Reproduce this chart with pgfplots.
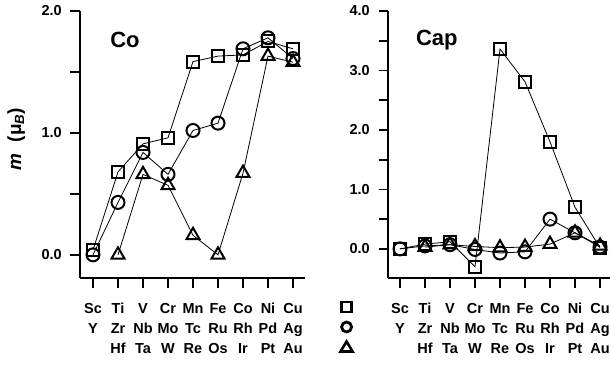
\documentclass[border=0pt]{standalone}
\usepackage{fontspec}
\setmainfont{Liberation Sans}
\usepackage{pgfplots}
\pgfplotsset{compat=1.18}

\pgfplotstableread{
x sq ci
0 0.04 0.00
1 0.68 0.43
2 0.91 0.84
3 0.96 0.66
4 1.585 1.02
5 1.63 1.08
6 1.64 1.69
7 1.75 1.78
8 1.69 1.61
}\coA
\pgfplotstableread{
x tr
1 0.00
2 0.66
3 0.57
4 0.16
5 0.00
6 0.67
7 1.63
8 1.58
}\coB
\pgfplotstableread{
x sq ci
0 0.00 0.00
1 0.08 0.05
2 0.12 0.07
3 -0.30 -0.01
4 3.36 -0.07
5 2.81 -0.05
6 1.80 0.50
7 0.70 0.27
8 0.02 0.03
}\capA
\pgfplotstableread{
x tr
1 0.03
2 0.07
3 0.04
4 0.02
5 0.03
6 0.08
7 0.27
8 0.05
}\capB

\pgfplotsset{
  panel/.style={
    scale only axis,
    axis x line=bottom, axis y line=left,
    axis line style={-, line width=1.7pt},
    tick align=outside,
    major tick length=9.5pt, minor tick length=9.5pt,
    every tick/.style={line width=1.7pt, black},
    xtick={0,...,8},
    xticklabels={\strut Sc\\\strut Y, \strut Ti\\\strut Zr\\\strut Hf, \strut V\\\strut Nb\\\strut Ta,
      \strut Cr\\\strut Mo\\\strut W, \strut Mn\\\strut Tc\\\strut Re, \strut Fe\\\strut Ru\\\strut Os,
      \strut Co\\\strut Rh\\\strut Ir, \strut Ni\\\strut Pd\\\strut Pt, \strut Cu\\\strut Ag\\\strut Au},
    xticklabel style={align=center, font=\fontsize{14.5}{20}\selectfont\bfseries, inner sep=0pt, yshift=-11.5pt},
    yticklabel={\pgfmathprintnumber[fixed,fixed zerofill,precision=1,assume math mode=true]{\tick}},
    yticklabel style={font=\fontsize{14.5}{16}\selectfont\bfseries, inner sep=0pt, xshift=-8.5pt},
    clip=false,
  },
  sqp/.style={black, line width=0.8pt, mark=square, mark size=6pt, mark options={line width=2pt, solid}},
  cip/.style={black, line width=0.8pt, mark=o, mark size=6.5pt, mark options={line width=2pt, solid}},
  trp/.style={black, line width=0.8pt, mark=triangle, mark size=7.5pt, mark options={line width=2pt, solid}},
}

\begin{document}
\begin{tikzpicture}
\path[use as bounding box] (0,0) rectangle (610pt,364pt);

\begin{axis}[panel,
  at={(80pt,86pt)}, anchor=south west,
  width=225pt, height=267pt,
  xmin=-0.52, xmax=8.48, ymin=-0.19, ymax=2.0,
  ytick={0,1,2}, minor ytick={0.5,1.5},
  ylabel={\fontsize{19}{20}\selectfont\bfseries\itshape m\hspace{0.6em}\upshape(μ\textsubscript{\itshape B})},
  ylabel style={at={(axis description cs:-0.284,0.52)}, anchor=center},
  legend style={at={(axis description cs:1.187,-0.1835)}, anchor=center, draw=none, fill=none,
    nodes={inner sep=0pt}, row sep=0pt, column sep=0pt},
]
\addplot[sqp, legend image code/.code={\path[draw=none,fill=none] (-7pt,-10pt) rectangle (7pt,10pt); \draw[line width=2.8pt, fill=none] (-5pt,-5pt) rectangle (5pt,5pt);}] table[x=x,y=sq] {\coA};
\addlegendentry{\mbox{}}
\addplot[cip, legend image code/.code={\path[draw=none,fill=none] (-7pt,-10pt) rectangle (7pt,10pt); \draw[line width=2.8pt, fill=none] (0,0) circle (5pt);}] table[x=x,y=ci] {\coA};
\addlegendentry{\mbox{}}
\addplot[trp, legend image code/.code={\path[draw=none,fill=none] (-7pt,-10pt) rectangle (7pt,10pt); \draw[line width=2.6pt, line join=miter, fill=none] (0,5.5pt) -- (-6pt,-4.5pt) -- (6pt,-4.5pt) -- cycle;}] table[x=x,y=tr] {\coB};
\addlegendentry{\mbox{}}
\node[font=\fontsize{22}{24}\selectfont\bfseries] at (axis description cs:0.2,0.891) {Co};
\end{axis}

\begin{axis}[panel,
  at={(388pt,86pt)}, anchor=south west,
  width=222pt, height=267pt,
  xmin=-0.48, xmax=8.4, ymin=-0.49, ymax=4.0,
  ytick={0,1,2,3,4}, minor ytick={0.5,1.5,2.5,3.5},
]
\addplot[sqp] table[x=x,y=sq] {\capA};
\addplot[cip] table[x=x,y=ci] {\capA};
\addplot[trp] table[x=x,y=tr] {\capB};
\node[font=\fontsize{22}{24}\selectfont\bfseries] at (axis description cs:0.22,0.891) {Cap};
\end{axis}
\end{tikzpicture}
\end{document}
